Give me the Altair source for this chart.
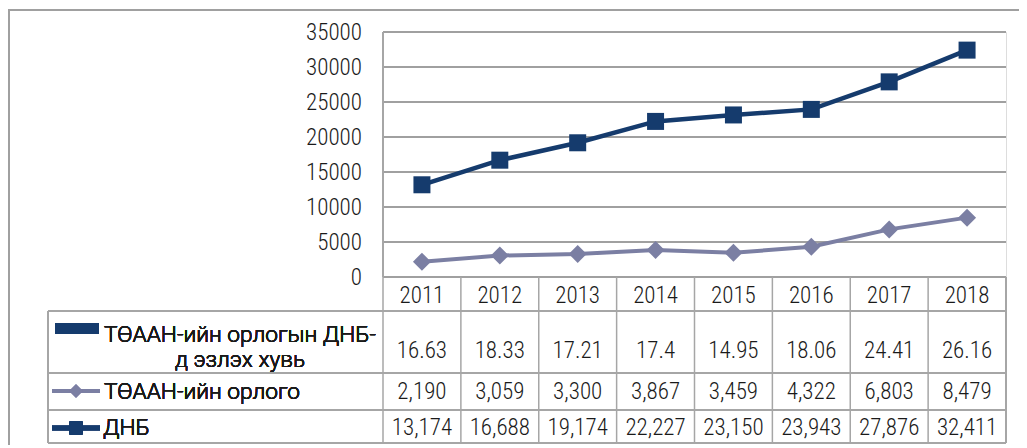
import altair as alt
import pandas as pd

years = ["2011", "2012", "2013", "2014", "2015", "2016", "2017", "2018"]
share_pct = [16.63, 18.33, 17.21, 17.4, 14.95, 18.06, 24.41, 26.16]
revenue = [2190, 3059, 3300, 3867, 3459, 4322, 6803, 8479]
gdp = [13174, 16688, 19174, 22227, 23150, 23943, 27876, 32411]
y_ticks = [0, 5000, 10000, 15000, 20000, 25000, 30000, 35000]

name_share_1 = "ТӨААН-ийн орлогын ДНБ-"
name_share_2 = "д эзлэх хувь"
name_rev = "ТӨААН-ийн орлого"
name_gdp = "ДНБ"

NAVY = "#153b6d"
LAV = "#7b7fa3"
GRID = "#a6a6a6"
GRIDLINE = "#a0a0a0"
TXT = "#1a1a1a"
FONT = "Roboto Condensed, Roboto, sans-serif"
LFONT = "Roboto, sans-serif"
FW = 300
FS = 23
LFS = 22.7

df = pd.DataFrame({
    "year": years,
    "share": share_pct,
    "share_lbl": [str(v) for v in share_pct],
    "rev": revenue,
    "rev_lbl": [f"{v:,}" for v in revenue],
    "gdp": gdp,
    "gdp_lbl": [f"{v:,}" for v in gdp],
})
ticks_df = pd.DataFrame({"tick": [float(t) for t in y_ticks], "tick_lbl": [str(t) for t in y_ticks]})

W, H = 623, 245
base = alt.Chart(df)
xsc = alt.Scale(paddingInner=0, paddingOuter=0)
xband = alt.X("year:O", scale=xsc, axis=None)
xedge = alt.X("year:O", bandPosition=0, scale=xsc, axis=None)
ysc = alt.Scale(domain=[0, 35000], nice=False)

frame = alt.Chart(df).mark_rect(filled=False, stroke="#a0a0a0", strokeWidth=2).encode(
    x=alt.value(-374), x2=alt.value(700), y=alt.value(-22), y2=alt.value(500))

grid = alt.Chart(ticks_df).mark_rule(color=GRIDLINE, strokeWidth=2, opacity=1).encode(
    y=alt.Y("tick:Q", scale=ysc, axis=None), y2="tick:Q",
    x=alt.value(0), x2=alt.value(W))
ylabels = alt.Chart(ticks_df).mark_text(font=FONT, fontWeight=FW, fontSize=FS, color=TXT,
                                        align="right", baseline="middle", dx=-21, dy=1).encode(
    y=alt.Y("tick:Q", scale=ysc, axis=None), x=alt.value(0), text="tick_lbl:N")
ydomain = alt.Chart(df).mark_rule(color=GRID, strokeWidth=1.5).encode(
    x=alt.value(0), y=alt.value(0), y2=alt.value(H))

gdp_line = base.mark_line(color=NAVY, strokeWidth=4.5).encode(x=xband, y=alt.Y("gdp:Q", scale=ysc, axis=None))
gdp_pts = base.mark_point(shape="square", filled=True, opacity=1, size=289, color=NAVY).encode(
    x=xband, y=alt.Y("gdp:Q", scale=ysc, axis=None))
rev_line = base.mark_line(color=LAV, strokeWidth=4).encode(x=xband, y=alt.Y("rev:Q", scale=ysc, axis=None))
rev_pts = base.mark_point(shape="diamond", filled=True, opacity=1, size=324, color=LAV).encode(
    x=xband, y=alt.Y("rev:Q", scale=ysc, axis=None))

# table row boundaries (pixels below the plot origin)
R1, R2, R3, R4 = 279, 341, 378, 411

def hrule(y, x0, x1):
    return alt.Chart(df).mark_rule(color=GRID, strokeWidth=1.5).encode(
        x=alt.value(x0), x2=alt.value(x1), y=alt.value(y))

rules = [hrule(R1, -335, W), hrule(R2, -335, W), hrule(R3, -335, W), hrule(R4, -335, W)]
vrules = base.mark_rule(color=GRID, strokeWidth=1.5).encode(x=xedge, y=alt.value(H), y2=alt.value(R4))
vright = alt.Chart(df).mark_rule(color=GRID, strokeWidth=1.5).encode(
    x=alt.value(W), y=alt.value(H), y2=alt.value(R4))
vleft = alt.Chart(df).mark_rule(color=GRID, strokeWidth=1.5).encode(
    x=alt.value(-335), y=alt.value(R1), y2=alt.value(R4))

def cell_text(field, ybase):
    return base.mark_text(font=FONT, fontWeight=FW, fontSize=FS, color=TXT, baseline="alphabetic",
                          align="center").encode(x=xband, y=alt.value(ybase), text=f"{field}:N")

t_head = cell_text("year", 271)
t_share = cell_text("share_lbl", 326)
t_rev = cell_text("rev_lbl", 366.5)
t_gdp = cell_text("gdp_lbl", 403)

def legend_text(txt, x, ybase, align="left"):
    return alt.Chart(df).mark_text(font=LFONT, fontWeight=FW, fontSize=LFS, color=TXT, baseline="alphabetic",
                                   align=align, text=txt).encode(x=alt.value(x), y=alt.value(ybase))

lg_share_sym = alt.Chart(df).mark_rect(color=NAVY).encode(
    x=alt.value(-328), x2=alt.value(-284), y=alt.value(291), y2=alt.value(302))
lg_share_1 = legend_text(name_share_1, -279, 309.5)
lg_share_2 = legend_text(name_share_2, -143, 335, align="center")

lg_rev_line = alt.Chart(df).mark_rule(color=LAV, strokeWidth=4).encode(
    x=alt.value(-331), x2=alt.value(-283), y=alt.value(359))
lg_rev_pt = alt.Chart(df).mark_point(shape="diamond", filled=True, opacity=1, size=169, color=LAV).encode(
    x=alt.value(-307), y=alt.value(359))
lg_rev_t = legend_text(name_rev, -279, 367)

lg_gdp_line = alt.Chart(df).mark_rule(color=NAVY, strokeWidth=4.5).encode(
    x=alt.value(-331), x2=alt.value(-283), y=alt.value(396))
lg_gdp_pt = alt.Chart(df).mark_point(shape="square", filled=True, opacity=1, size=169, color=NAVY).encode(
    x=alt.value(-307), y=alt.value(396))
lg_gdp_t = legend_text(name_gdp, -280, 403)

chart = alt.layer(
    frame, grid, ylabels, ydomain, gdp_line, gdp_pts, rev_line, rev_pts,
    *rules, vrules, vright, vleft,
    t_head, t_share, t_rev, t_gdp,
    lg_share_sym, lg_share_1, lg_share_2,
    lg_rev_line, lg_rev_pt, lg_rev_t,
    lg_gdp_line, lg_gdp_pt, lg_gdp_t,
).resolve_scale(y="shared").properties(
    width=W, height=H,
    autosize=alt.AutoSizeParams(type="none"),
    padding={"left": 375, "top": 24, "right": 13, "bottom": 168},
).configure_view(stroke=None).configure(background="white")

chart.save("out.html", embed_options={"renderer": "svg", "actions": False})
